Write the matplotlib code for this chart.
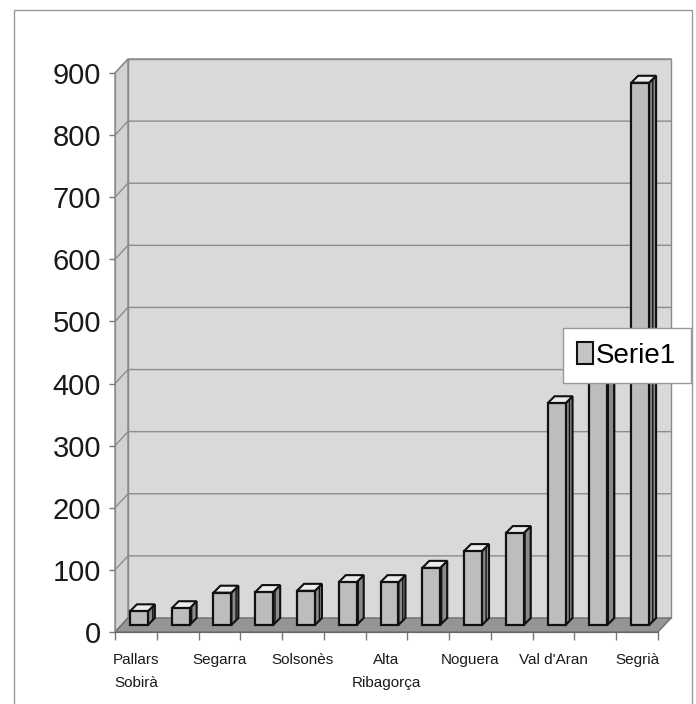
import numpy as np
import matplotlib
matplotlib.use('Agg')
import matplotlib.pyplot as plt
from matplotlib.patches import Polygon, Rectangle, Patch
from matplotlib.lines import Line2D
from matplotlib.transforms import IdentityTransform

# values (every other category is labelled)
labels = ['Pallars\nSobirà', '', 'Segarra', '', 'Solsonès', '', 'Alta\nRibagorça',
          '', 'Noguera', '', "Val d'Aran", '', 'Segrià']
values = [22, 27, 52, 53, 55, 69, 69, 92, 119, 148, 357, 430, 873]
yticks = [0, 100, 200, 300, 400, 500, 600, 700, 800, 900]
series_name = 'Serie1'

W, H = 696, 704
DEPTH = (13, 14)     # back wall offset in px (fake 3D)
BAR_OFF = (3, 7)     # bar front face offset from the front plane
BAR_D = 7            # bar depth in px
BAR_W = 0.43

plt.rcParams['font.family'] = ['Liberation Sans Narrow', 'Liberation Sans', 'DejaVu Sans']

fig = plt.figure(figsize=(W / 100, H / 100), dpi=100)
fig.patch.set_facecolor('white')
ax = fig.add_axes([115 / W, 72 / H, 543 / W, 559 / H])
n = len(values)
ax.set_xlim(-0.5, n - 0.5)
ax.set_ylim(yticks[0], yticks[-1])
ax.patch.set_visible(False)
for s in ['top', 'right']:
    ax.spines[s].set_visible(False)
ax.spines['left'].set_color('#888888')
ax.spines['bottom'].set_color('#666666')
ax.spines['left'].set_zorder(4)
ax.spines['bottom'].set_zorder(4)


def px(x, y, dx=0, dy=0):
    X, Y = ax.transData.transform((x, y))
    return (X + dx, Y + dy)


def poly(pts, **kw):
    p = Polygon(pts, closed=True, transform=IdentityTransform(), clip_on=False, **kw)
    ax.add_patch(p)
    return p


def line(pts, **kw):
    xs, ys = zip(*pts)
    ln = Line2D(xs, ys, transform=IdentityTransform(), clip_on=False, **kw)
    ax.add_line(ln)


x_lo, x_hi = -0.5, n - 0.5
y_top = yticks[-1]
dx, dy = DEPTH

# walls
poly([px(x_lo, 0), px(x_lo, y_top), px(x_lo, y_top, dx, dy), px(x_lo, 0, dx, dy)],
     facecolor='#d2d2d2', edgecolor='#8a8a8a', lw=1, zorder=1)
poly([px(x_lo, 0, dx, dy), px(x_lo, y_top, dx, dy), px(x_hi, y_top, dx, dy), px(x_hi, 0, dx, dy)],
     facecolor='#d9d9d9', edgecolor='#8a8a8a', lw=1, zorder=1)

# gridlines on left and back wall
for v in yticks[1:]:
    line([px(x_lo, v), px(x_lo, v, dx, dy), px(x_hi, v, dx, dy)],
         color='#8c8c8c', lw=1, zorder=2)

# floor
poly([px(x_lo, 0), px(x_hi, 0), px(x_hi, 0, dx, dy), px(x_lo, 0, dx, dy)],
     facecolor='#959595', edgecolor='#6f6f6f', lw=1, zorder=3)

# bars
ox, oy = BAR_OFF
for i, v in enumerate(values):
    x0, x1 = i - BAR_W / 2, i + BAR_W / 2
    poly([px(x1, 0, ox, oy), px(x1, 0, ox + BAR_D, oy + BAR_D),
          px(x1, v, ox + BAR_D, oy + BAR_D), px(x1, v, ox, oy)],
         facecolor='#8a8a8a', edgecolor='#111111', hatch='|||', lw=1.5, zorder=5)
    poly([px(x0, v, ox, oy), px(x1, v, ox, oy),
          px(x1, v, ox + BAR_D, oy + BAR_D), px(x0, v, ox + BAR_D, oy + BAR_D)],
         facecolor='#ececec', edgecolor='#111111', lw=1.5, zorder=5)
    poly([px(x0, 0, ox, oy), px(x1, 0, ox, oy), px(x1, v, ox, oy), px(x0, v, ox, oy)],
         facecolor='#bdbdbd', edgecolor='#111111', lw=1.6, zorder=6)

# ticks and labels
ax.set_yticks(yticks)
ax.tick_params(axis='y', length=4, width=1, color='#777777', pad=6,
               labelsize=21, labelcolor='#1a1a1a')
ax.set_xticks(range(n))
ax.set_xticklabels(labels)
ax.set_xticks(np.arange(-0.5, n), minor=True)
ax.tick_params(axis='x', which='major', length=0, pad=15, labelsize=11, labelcolor='#1a1a1a')
ax.tick_params(axis='x', which='minor', length=6, width=1, color='#777777')
for t in ax.get_xticklabels():
    t.set_linespacing(1.85)

# legend
fig.legend(handles=[Patch(facecolor='#c4c4c4', edgecolor='#111111', lw=1.5, label=series_name)],
           loc='upper left', bbox_to_anchor=(563 / W, 1 - 328 / H), fontsize=20,
           frameon=True, fancybox=False, edgecolor='#999999', framealpha=1,
           handlelength=0.55, handleheight=0.8, handletextpad=0.12,
           borderpad=0.52, borderaxespad=0)

# outer frame of the chart area
fig.add_artist(Rectangle((14 / W, -0.05), (692 - 14) / W, (704 - 10) / H + 0.05,
                         transform=fig.transFigure, fill=False, edgecolor='#999999', lw=1))

fig.savefig('out.png', dpi=100)
